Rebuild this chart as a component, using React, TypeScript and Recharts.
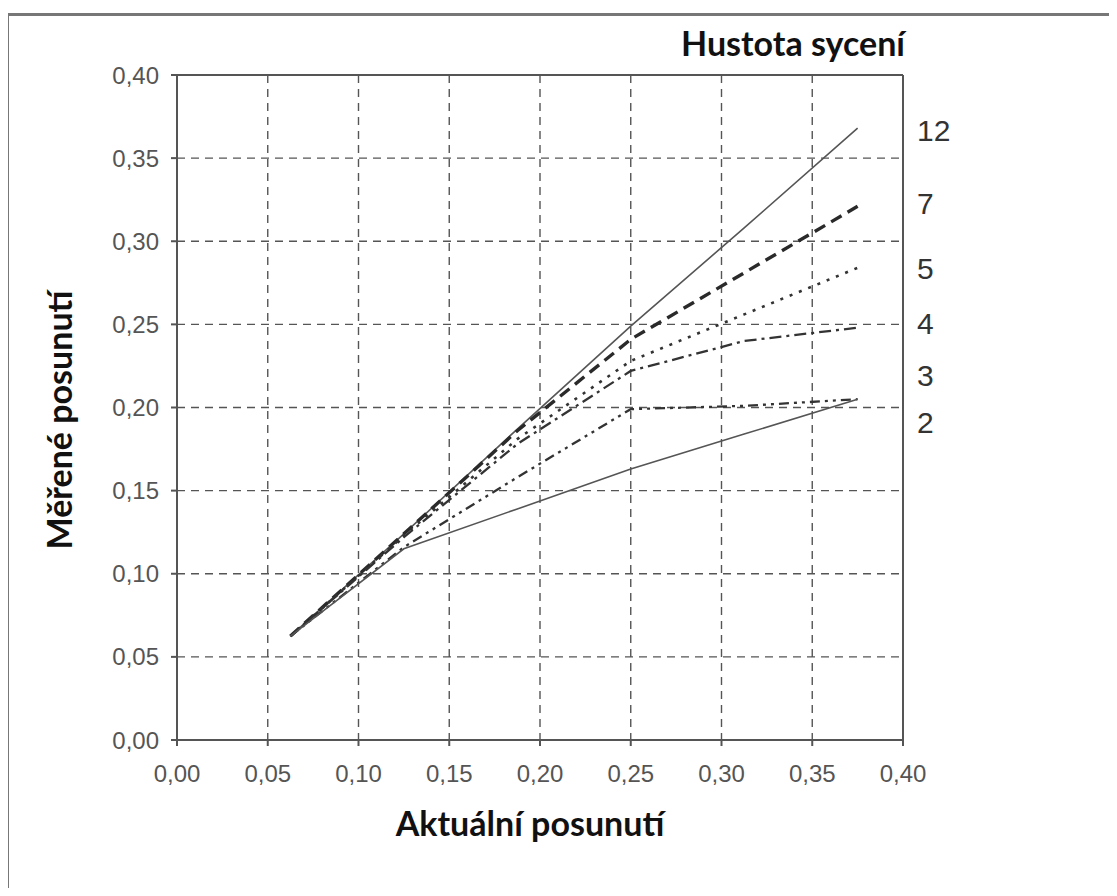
import React from "react";
import {
  LineChart,
  Line,
  XAxis,
  YAxis,
  CartesianGrid,
  ReferenceLine,
} from "recharts";

// actual displacement (x) steps
const xs = [0.0625, 0.125, 0.1875, 0.25, 0.3125, 0.375];

// measured displacement per saturation density
const s12 = [0.0625, 0.124, 0.187, 0.249, 0.308, 0.368];
const s7 = [0.0625, 0.124, 0.186, 0.241, 0.281, 0.321];
const s5 = [0.0625, 0.123, 0.181, 0.228, 0.256, 0.284];
const s4 = [0.0625, 0.122, 0.178, 0.222, 0.24, 0.248];
const s3 = [0.0625, 0.116, 0.158, 0.199, 0.201, 0.205];
const s2 = [0.0625, 0.115, 0.139, 0.163, 0.184, 0.205];

const axisTicks = [0, 0.05, 0.1, 0.15, 0.2, 0.25, 0.3, 0.35, 0.4];

// names shown at the right, with the y value each name sits at
const seriesNames = ["12", "7", "5", "4", "3", "2"];
const nameAnchors = [0.367, 0.323, 0.284, 0.251, 0.2195, 0.191];

const data = xs.map((x, i) => ({
  x,
  s12: s12[i],
  s7: s7[i],
  s5: s5[i],
  s4: s4[i],
  s3: s3[i],
  s2: s2[i],
}));

const fmt = (v: number) => v.toFixed(2).replace(".", ",");

const tickStyle = { fontFamily: "Liberation Sans, Arial", fontSize: 24, fill: "#555" };
const titleFont = "Lato, 'Open Sans', sans-serif";

function NameTick(props: any) {
  const { x, y, payload } = props;
  const idx = nameAnchors.indexOf(payload.value);
  return (
    <text
      x={x + 6}
      y={y}
      dy="0.36em"
      textAnchor="start"
      fontFamily="Liberation Sans, Arial"
      fontSize={30}
      fill="#333"
    >
      {seriesNames[idx]}
    </text>
  );
}

const titleStyle: React.CSSProperties = {
  position: "absolute",
  fontFamily: titleFont,
  fontWeight: 700,
  fontSize: 34,
  color: "#111",
  whiteSpace: "nowrap",
};

export default function App() {
  return (
    <div style={{ position: "relative", width: 1117, height: 896, margin: -8 }}>
      <div style={{ position: "absolute", left: 0, top: 0 }}>
        <LineChart
          width={1117}
          height={896}
          data={data}
          margin={{ top: 75, left: 107, right: 134, bottom: 126 }}
        >
          <CartesianGrid
            yAxisId="left"
            stroke="#555"
            strokeWidth={1.4}
            strokeDasharray="8 6"
          />
          <XAxis
            dataKey="x"
            type="number"
            domain={[0, 0.4]}
            ticks={axisTicks}
            tickFormatter={fmt}
            stroke="#555"
            strokeWidth={2}
            tickSize={6}
            tickMargin={19}
            height={30}
            tick={tickStyle}
          />
          <YAxis
            yAxisId="left"
            type="number"
            domain={[0, 0.4]}
            ticks={axisTicks}
            tickFormatter={fmt}
            stroke="#555"
            strokeWidth={2}
            tickSize={6}
            tickMargin={12}
            width={70}
            tick={tickStyle}
          />
          <YAxis
            yAxisId="names"
            orientation="right"
            type="number"
            domain={[0, 0.4]}
            ticks={nameAnchors}
            axisLine={false}
            tickLine={false}
            width={80}
            tick={<NameTick />}
          />
          <ReferenceLine yAxisId="left" y={0.4} stroke="#555" strokeWidth={2} />
          <ReferenceLine yAxisId="left" x={0.4} stroke="#555" strokeWidth={2} />
          <Line yAxisId="names" dataKey="s12" stroke="none" dot={false} activeDot={false} legendType="none" isAnimationActive={false} />
          <Line yAxisId="left" dataKey="s12" stroke="#555" strokeWidth={1.6} dot={false} isAnimationActive={false} />
          <Line yAxisId="left" dataKey="s7" stroke="#2a2a2a" strokeWidth={3.4} strokeDasharray="12 7" dot={false} isAnimationActive={false} />
          <Line yAxisId="left" dataKey="s5" stroke="#333" strokeWidth={2.6} strokeDasharray="3 7" dot={false} isAnimationActive={false} />
          <Line yAxisId="left" dataKey="s4" stroke="#333" strokeWidth={2.3} strokeDasharray="12 5 3 5" dot={false} isAnimationActive={false} />
          <Line yAxisId="left" dataKey="s3" stroke="#333" strokeWidth={2.3} strokeDasharray="10 5 3 5 3 5" dot={false} isAnimationActive={false} />
          <Line yAxisId="left" dataKey="s2" stroke="#555" strokeWidth={1.6} dot={false} isAnimationActive={false} />
        </LineChart>
      </div>
      <div
        style={{
          position: "absolute",
          left: 6,
          top: 13,
          width: 1111,
          height: 883,
          borderTop: "3px solid #777",
          borderLeft: "3px solid #777",
          boxSizing: "border-box",
          pointerEvents: "none",
        }}
      />
      <div style={{ ...titleStyle, right: 1117 - 905, top: 22 }}>Hustota sycení</div>
      <div
        style={{
          ...titleStyle,
          left: 530,
          top: 822,
          transform: "translate(-50%, -50%)",
        }}
      >
        Aktuální posunutí
      </div>
      <div
        style={{
          ...titleStyle,
          left: 58,
          top: 420,
          transform: "translate(-50%, -50%) rotate(-90deg)",
        }}
      >
        Měřené posunutí
      </div>
    </div>
  );
}
